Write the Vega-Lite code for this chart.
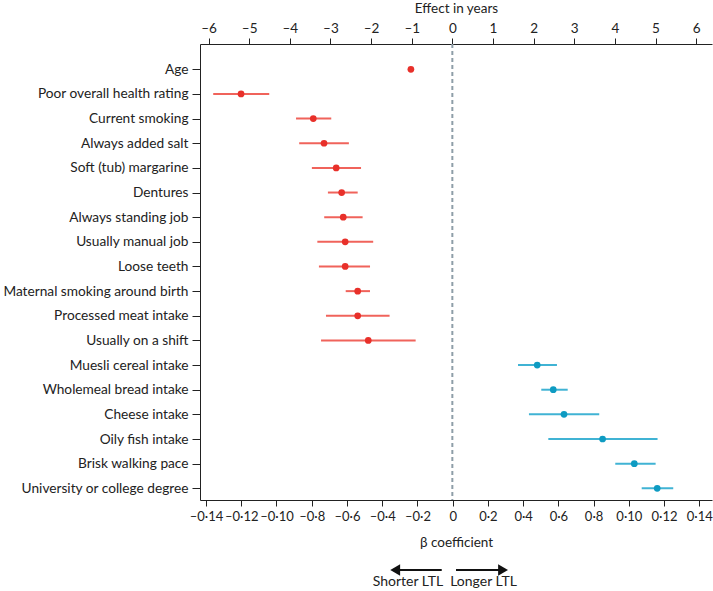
{
  "$schema": "https://vega.github.io/schema/vega-lite/v6.json",
  "autosize": {"type": "pad"},
  "padding": {"left": 0, "top": 1, "right": 0, "bottom": 0},
  "background": "white",
  "config": {
    "font": "Lato",
    "view": {"stroke": null},
    "axis": {
      "domainColor": "#222222",
      "tickColor": "#222222",
      "labelColor": "#222222",
      "titleColor": "#222222",
      "labelFontSize": 13.5,
      "titleFontSize": 13.5,
      "titleFontWeight": "normal",
      "grid": false,
      "domainWidth": 1,
      "tickWidth": 1,
      "labelOverlap": false
    }
  },
  "spacing": 15,
  "vconcat": [
    {
      "width": 512,
      "height": 456,
      "data": {
        "values": [
          {"item": "Age", "beta": -0.0237, "lo": -0.0241, "hi": -0.0233, "grp": "neg"},
          {"item": "Poor overall health rating", "beta": -0.1201, "lo": -0.1359, "hi": -0.1041, "grp": "neg"},
          {"item": "Current smoking", "beta": -0.0791, "lo": -0.0889, "hi": -0.0689, "grp": "neg"},
          {"item": "Always added salt", "beta": -0.0730, "lo": -0.0871, "hi": -0.0589, "grp": "neg"},
          {"item": "Soft (tub) margarine", "beta": -0.0661, "lo": -0.0799, "hi": -0.0520, "grp": "neg"},
          {"item": "Dentures", "beta": -0.0630, "lo": -0.0708, "hi": -0.0539, "grp": "neg"},
          {"item": "Always standing job", "beta": -0.0621, "lo": -0.0729, "hi": -0.0511, "grp": "neg"},
          {"item": "Usually manual job", "beta": -0.0610, "lo": -0.0768, "hi": -0.0451, "grp": "neg"},
          {"item": "Loose teeth", "beta": -0.0610, "lo": -0.0759, "hi": -0.0469, "grp": "neg"},
          {"item": "Maternal smoking around birth", "beta": -0.0539, "lo": -0.0607, "hi": -0.0469, "grp": "neg"},
          {"item": "Processed meat intake", "beta": -0.0539, "lo": -0.0719, "hi": -0.0358, "grp": "neg"},
          {"item": "Usually on a shift", "beta": -0.0479, "lo": -0.0747, "hi": -0.0210, "grp": "neg"},
          {"item": "Muesli cereal intake", "beta": 0.0480, "lo": 0.0371, "hi": 0.0592, "grp": "pos"},
          {"item": "Wholemeal bread intake", "beta": 0.0571, "lo": 0.0503, "hi": 0.0653, "grp": "pos"},
          {"item": "Cheese intake", "beta": 0.0632, "lo": 0.0433, "hi": 0.0832, "grp": "pos"},
          {"item": "Oily fish intake", "beta": 0.0851, "lo": 0.0543, "hi": 0.1163, "grp": "pos"},
          {"item": "Brisk walking pace", "beta": 0.1031, "lo": 0.0923, "hi": 0.1152, "grp": "pos"},
          {"item": "University or college degree", "beta": 0.1161, "lo": 0.1073, "hi": 0.1252, "grp": "pos"}
        ]
      },
      "layer": [
        {
          "layer": [
            {
              "mark": {"type": "rule", "strokeWidth": 2},
              "encoding": {
                "y": {
                  "field": "item", "type": "nominal", "sort": null,
                  "scale": {"type": "point", "padding": 0.75, "align": 0.684},
                  "axis": {"title": null, "tickSize": 8, "labelPadding": 4, "labelFontSize": 13.7, "labelLimit": 200, "minExtent": 200, "maxExtent": 200}
                },
                "x": {
                  "field": "lo", "type": "quantitative",
                  "scale": {"domain": [-0.1434, 0.1472], "nice": false, "zero": false},
                  "axis": {
                    "orient": "bottom", "title": "β coefficient",
                    "values": [-0.14, -0.12, -0.1, -0.08, -0.06, -0.04, -0.02, 0, 0.02, 0.04, 0.06, 0.08, 0.1, 0.12, 0.14],
                    "tickCount": 30,
                    "labelExpr": "datum.value == 0 ? '0' : (datum.value < 0 ? '–' : '') + '0·' + round(abs(datum.value) * 100)",
                    "labelOverlap": false, "labelFlush": false, "labelBound": false,
                    "labelFontSize": 13,
                    "tickSize": 6, "labelPadding": 4, "titlePadding": 12
                  }
                },
                "x2": {"field": "hi"},
                "stroke": {
                  "field": "grp", "type": "nominal",
                  "scale": {"domain": ["neg", "pos"], "range": ["#f0635b", "#40b3d4"]},
                  "legend": null
                }
              }
            },
            {
              "mark": {"type": "circle", "size": 45, "opacity": 1},
              "encoding": {
                "y": {"field": "item", "type": "nominal", "sort": null},
                "x": {"field": "beta", "type": "quantitative"},
                "fill": {
                  "field": "grp", "type": "nominal",
                  "scale": {"domain": ["neg", "pos"], "range": ["#e8302a", "#0e9bc2"]},
                  "legend": null
                }
              }
            }
          ]
        },
        {
          "data": {"values": [{"years": 0}]},
          "mark": {"type": "rule", "strokeDash": [4, 3], "color": "#8e9ea8", "strokeWidth": 2},
          "encoding": {
            "x": {
              "field": "years", "type": "quantitative",
              "scale": {"domain": [-6.21, 6.39], "nice": false, "zero": false},
              "axis": {
                "orient": "top", "title": "Effect in years",
                "values": [-6, -5, -4, -3, -2, -1, 0, 1, 2, 3, 4, 5, 6],
                "tickCount": 30,
                "labelExpr": "(datum.value < 0 ? '–' : '') + abs(datum.value)",
                "labelOverlap": false, "labelFlush": false,
                "tickSize": 6, "labelPadding": 3, "titlePadding": 6
              }
            }
          }
        }
      ],
      "resolve": {"scale": {"x": "independent"}, "axis": {"x": "independent"}}
    },
    {
      "width": 512,
      "height": 24,
      "data": {
        "values": [
          {"dir": "Shorter LTL", "from": -0.0062, "head": -0.0326, "label": -0.0254},
          {"dir": "Longer LTL", "from": 0.0019, "head": 0.0286, "label": 0.0175}
        ]
      },
      "encoding": {
        "y": {
          "datum": "arrow", "type": "nominal",
          "scale": {"type": "point", "domain": ["arrow", "label"], "padding": 0.5},
          "axis": {"title": null, "labels": false, "ticks": false, "domain": false, "minExtent": 200, "maxExtent": 200}
        }
      },
      "layer": [
        {
          "mark": {"type": "rule", "strokeWidth": 2, "color": "#111111"},
          "encoding": {
            "x": {"field": "from", "type": "quantitative", "scale": {"domain": [-0.1434, 0.1472], "nice": false, "zero": false}, "axis": null},
            "x2": {"field": "head"}
          }
        },
        {
          "mark": {"type": "point", "filled": true, "size": 130, "opacity": 1, "color": "#111111"},
          "encoding": {
            "x": {"field": "head", "type": "quantitative"},
            "shape": {
              "field": "dir", "type": "nominal",
              "scale": {"domain": ["Shorter LTL", "Longer LTL"], "range": ["triangle-left", "triangle-right"]},
              "legend": null
            }
          }
        },
        {
          "mark": {"type": "text", "fontSize": 14, "color": "#222222"},
          "encoding": {
            "x": {"field": "label", "type": "quantitative"},
            "y": {"datum": "label", "type": "nominal"},
            "text": {"field": "dir"}
          }
        }
      ]
    }
  ]
}
